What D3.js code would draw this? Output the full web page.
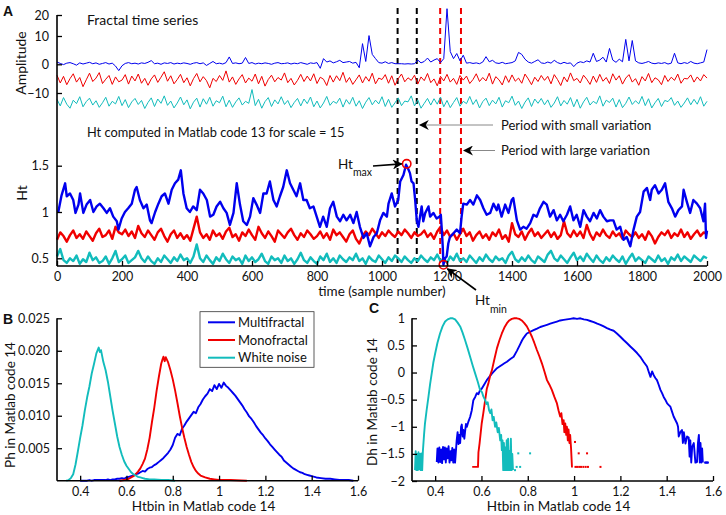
<!DOCTYPE html>
<html><head><meta charset="utf-8">
<script src="https://cdn.jsdelivr.net/npm/d3@7"></script>
<style>
body{margin:0;background:#fff}
svg{display:block}
text{font-family:Lato,"Open Sans",sans-serif;fill:#111}
</style>
</head><body><svg id="c" width="726" height="515"></svg>
<script>
// ---------------- DATA ----------------
const sampleStep = 10;
const timeTicks = [0,200,400,600,800,1000,1200,1400,1600,1800,2000];
const ampTicks = [20,10,0,-10];
const htTicks = [0.5,1,1.5];
const phTicks = [0.005,0.010,0.015,0.020,0.025];
const phTickLabels = ["0.005","0.010","0.015","0.020","0.025"];
const htbinTicks = [0.4,0.6,0.8,1,1.2,1.4,1.6];
const dhTicks = [1,0.5,0,-0.5,-1,-1.5,-2];
const seriesNames = ["Multifractal","Monofractal","White noise"];
const seriesColors = ["#0000ee","#f00000","#12bcbc"];

// Panel A amplitude series (every 10 samples)
const ampMulti = [
0.8,0.3,-0.1,0.4,0.6,0.2,-0.3,0.5,0.1,0.4,
0.7,0.2,0.5,0.0,0.3,0.6,0.1,0.4,-0.6,-2.2,
-0.5,0.3,0.6,0.2,0.4,0.1,0.5,0.3,0.7,1.3,
0.2,0.4,0.0,0.5,0.3,0.6,0.1,0.4,0.2,0.5,
0.3,0.0,0.4,0.6,0.2,0.5,-0.4,0.3,1.0,0.2,
0.4,0.1,0.6,2.6,0.3,0.5,0.2,0.4,2.4,0.3,
0.6,0.1,0.4,0.2,0.5,0.3,0.0,0.4,0.6,0.2,
0.3,0.5,0.1,0.4,0.2,0.6,0.3,0.0,0.5,0.3,
0.6,-1.4,2.0,0.8,1.2,0.5,0.9,1.4,0.6,0.8,
1.0,0.4,0.7,-1.2,7.3,1.0,10.2,3.5,2.0,0.6,
0.4,0.9,0.3,0.6,0.2,0.2,0.2,0.1,0.2,0.1,
0.2,1.5,0.5,1.0,2.2,0.8,1.5,2.0,0.6,2.0,
23.0,4.5,2.0,3.8,1.2,3.2,0.4,0.6,0.3,0.5,
0.2,0.8,2.7,0.9,1.4,0.5,0.3,0.7,0.2,0.4,
0.6,1.2,4.2,3.5,1.8,0.8,0.4,1.0,1.6,0.5,
0.3,0.8,0.4,1.4,0.6,0.2,0.7,0.3,0.5,-0.8,
0.4,0.9,0.6,1.2,0.8,3.9,1.0,1.5,2.5,0.8,
5.6,1.5,0.7,1.8,0.9,8.8,1.2,8.4,1.2,0.5,
0.3,0.6,1.0,0.4,0.2,0.5,0.3,0.6,0.1,0.4,
3.9,0.5,0.2,0.6,0.3,1.0,0.4,0.2,0.5,0.8,
5.2];
const ampMono = [
-3.8,-6.5,-4.2,-7.1,-5.0,-3.3,-6.2,-4.6,-7.8,-5.4,
-3.1,-6.0,-4.8,-2.9,-6.7,-5.2,-3.9,-7.0,-4.4,-6.1,
-5.5,-3.6,-6.9,-4.1,-5.8,-3.4,-6.6,-4.9,-7.3,-5.1,
-3.7,-6.3,-4.5,-2.6,-5.9,-4.0,-6.8,-5.3,-3.5,-6.4,
-4.7,-7.5,-5.0,-3.2,-6.1,-4.3,-5.7,-8.2,-4.9,-6.0,
-3.9,-5.6,-2.3,-6.2,-4.4,-7.0,-5.1,-3.6,-6.5,-4.8,
-5.9,-3.4,-6.8,-4.2,-7.6,-5.3,-3.8,-6.1,-4.6,-5.5,
-3.0,-6.4,-4.9,-7.2,-5.6,-3.5,-6.0,-4.1,-5.8,-3.3,
-6.7,-4.5,-5.2,-7.4,-3.9,-6.2,-4.0,-5.7,-2.8,-6.3,
-4.6,-7.0,-5.4,-3.7,-6.5,-4.3,-5.9,-3.1,-6.8,-4.8,
-5.3,-3.6,-6.6,-4.0,-7.3,-5.0,-3.4,-6.1,-4.7,-5.6,
-3.8,-6.9,-4.4,-5.7,-3.2,-6.4,-5.1,-7.5,-4.2,-5.8,
-3.5,-6.2,-4.9,-7.0,-3.9,-5.5,-4.1,-6.7,-5.3,-3.3,
-6.0,-4.6,-5.8,-3.1,-6.9,-4.3,-5.4,-7.2,-4.0,-6.3,
-3.7,-5.9,-4.8,-6.6,-3.4,-5.1,-7.1,-4.5,-6.0,-3.9,
-5.6,-4.2,-6.8,-3.6,-5.3,-7.4,-4.4,-6.1,-3.0,-5.7,
-4.9,-6.5,-3.8,-5.2,-7.0,-4.1,-6.3,-3.5,-5.9,-4.6,
-6.7,-3.3,-5.5,-4.0,-6.9,-4.8,-3.6,-6.2,-5.0,-7.3,
-4.3,-5.8,-3.2,-6.4,-4.7,-5.4,-7.1,-3.9,-6.0,-4.5,
-5.6,-3.4,-6.6,-4.9,-5.1,-3.7,-6.2,-4.4,-5.8,-3.6,
-4.8];
const ampWhite = [
-12.2,-14.5,-11.6,-13.9,-15.3,-12.5,-13.7,-11.3,-14.8,-13.0,
-11.8,-14.2,-12.7,-15.0,-13.4,-11.5,-14.6,-12.9,-13.8,-11.2,
-14.4,-12.3,-15.1,-13.1,-11.9,-14.0,-12.6,-15.4,-13.3,-11.7,
-14.7,-12.1,-13.6,-11.0,-14.3,-12.8,-15.2,-13.5,-11.4,-14.1,
-12.4,-15.5,-13.2,-11.8,-14.9,-12.0,-13.9,-11.5,-14.6,-12.7,
-13.4,-11.1,-14.8,-12.5,-15.0,-13.1,-11.7,-14.2,-12.9,-13.6,
-8.8,-14.4,-12.2,-15.3,-13.0,-11.6,-14.7,-12.4,-13.8,-11.3,
-14.0,-12.6,-15.1,-13.3,-11.9,-14.5,-12.1,-13.7,-11.4,-14.8,
-12.8,-15.2,-13.5,-11.2,-14.3,-12.9,-13.6,-11.8,-14.9,-12.3,
-13.9,-11.5,-14.6,-12.7,-15.4,-13.2,-11.6,-14.1,-12.5,-13.8,
-11.3,-14.7,-12.2,-15.0,-13.4,-11.7,-14.4,-12.8,-13.1,-11.0,
-14.5,-12.4,-15.3,-13.6,-11.9,-14.2,-12.0,-13.9,-11.4,-14.8,
-12.6,-15.1,-13.3,-11.6,-14.6,-12.9,-13.7,-11.2,-14.0,-12.3,
-15.2,-13.0,-11.8,-14.4,-12.5,-13.8,-11.5,-14.9,-12.7,-13.4,
-11.1,-14.3,-12.8,-15.4,-13.2,-11.7,-14.7,-12.1,-13.6,-11.9,
-14.1,-12.4,-15.0,-13.5,-11.3,-14.5,-12.6,-13.9,-11.6,-14.8,
-12.2,-15.3,-13.1,-11.5,-14.2,-12.9,-13.7,-11.0,-14.6,-12.5,
-13.3,-11.8,-14.9,-12.3,-15.1,-13.6,-11.4,-14.0,-12.7,-13.8,
-11.2,-14.4,-12.0,-15.2,-13.4,-11.9,-14.7,-12.6,-13.0,-11.6,
-14.3,-12.8,-15.0,-13.5,-11.7,-14.1,-12.2,-13.9,-11.3,-14.6,
-12.9];

// Panel A Ht series
const htMulti = [
[4,1.00],[14,1.18],[25,1.31],[30,1.17],[40,1.20],[50,1.13],[57,0.99],[66,1.08],[71,1.20],[81,0.99],
[91,1.08],[102,1.13],[112,1.00],[122,1.06],[132,1.09],[143,1.04],[153,0.99],[163,1.04],[173,0.95],[184,0.90],
[189,0.81],[199,0.93],[209,1.00],[219,1.04],[230,1.09],[240,1.24],[245,1.27],[255,1.13],[266,1.04],[276,1.08],
[286,0.91],[291,0.88],[302,1.00],[312,1.09],[322,1.17],[332,1.20],[343,1.09],[353,1.24],[363,1.31],[373,1.35],
[381,1.45],[389,1.20],[399,1.04],[409,1.00],[419,1.06],[430,1.02],[440,1.24],[450,1.20],[461,1.13],[471,0.95],
[481,0.97],[491,1.06],[502,1.11],[512,1.04],[522,0.99],[532,0.86],[543,0.99],[553,1.31],[563,1.08],[573,0.90],
[584,0.86],[594,0.95],[604,1.15],[614,1.08],[625,0.99],[635,1.20],[645,1.20],[655,1.33],[666,1.13],[676,1.06],
[686,1.17],[696,1.27],[707,1.45],[717,1.31],[727,1.24],[737,1.17],[748,1.31],[758,1.13],[768,1.13],[778,1.04],
[789,1.06],[799,0.95],[809,0.84],[819,0.95],[830,0.84],[840,1.04],[850,1.11],[861,0.95],[871,0.90],[881,0.97],
[891,0.91],[902,0.97],[912,0.88],[922,1.00],[932,0.84],[943,0.72],[953,0.77],[963,0.63],[974,0.73],[984,0.77],
[994,0.91],[1004,0.99],[1015,0.95],[1020,1.09],[1030,1.20],[1035,1.13],[1040,1.06],[1050,1.13],[1056,1.33],[1066,1.40],
[1074,1.51],[1080,1.47],[1086,1.42],[1091,1.33],[1097,1.31],[1102,1.13],[1107,0.91],[1112,0.84],[1117,0.95],[1122,1.06],
[1127,0.90],[1133,0.99],[1143,1.06],[1148,0.95],[1158,0.99],[1168,0.93],[1177,0.95],[1181,0.97],[1184,0.81],[1187,0.62],
[1189,0.43],[1194,0.50],[1199,0.52],[1204,0.66],[1209,0.73],[1220,0.77],[1230,0.81],[1240,0.77],[1245,0.95],[1250,1.09],
[1261,1.08],[1271,1.13],[1281,1.08],[1292,1.18],[1302,1.13],[1312,1.04],[1322,0.97],[1333,0.99],[1343,1.09],[1353,1.02],
[1358,1.08],[1368,0.95],[1379,1.08],[1389,0.99],[1399,1.13],[1404,1.15],[1415,0.91],[1425,0.81],[1435,0.84],[1445,0.82],
[1456,0.88],[1466,0.97],[1476,0.95],[1486,1.04],[1497,1.11],[1507,1.08],[1517,0.95],[1528,1.02],[1538,0.91],[1548,0.97],
[1558,0.90],[1569,0.97],[1579,1.06],[1589,0.91],[1599,0.97],[1610,0.84],[1620,1.02],[1630,0.95],[1640,0.90],[1651,0.99],
[1661,0.93],[1671,1.02],[1681,0.95],[1692,0.90],[1702,0.91],[1712,0.91],[1722,0.81],[1733,0.84],[1743,0.70],[1753,0.73],
[1764,0.63],[1774,0.81],[1784,0.95],[1794,1.00],[1805,1.22],[1815,1.26],[1825,1.13],[1830,1.24],[1840,1.29],[1851,1.20],
[1861,1.24],[1871,1.31],[1881,1.11],[1892,1.04],[1902,0.95],[1912,1.02],[1923,1.06],[1928,1.24],[1938,1.11],[1948,0.99],
[1958,1.13],[1969,1.09],[1979,1.04],[1989,0.90],[1994,1.09],[1997,0.72],[2000,0.80]];
const htMono = [
0.70,0.78,0.74,0.68,0.75,0.80,0.72,0.76,0.71,0.79,
0.74,0.69,0.77,0.82,0.73,0.75,0.80,0.71,0.84,0.78,
0.76,0.81,0.74,0.79,0.72,0.85,0.77,0.73,0.80,0.75,
0.70,0.78,0.82,0.74,0.68,0.76,0.80,0.72,0.77,0.71,
0.75,0.69,0.82,0.95,0.78,0.72,0.76,0.70,0.80,0.74,
0.77,0.71,0.79,0.83,0.73,0.76,0.69,0.78,0.74,0.81,
0.75,0.70,0.84,0.77,0.72,0.79,0.74,0.68,0.80,0.76,
0.72,0.78,0.82,0.75,0.70,0.77,0.73,0.80,0.76,0.71,
0.74,0.79,0.72,0.77,0.70,0.81,0.75,0.78,0.73,0.68,
0.76,0.80,0.71,0.66,0.74,0.79,0.75,0.82,0.77,0.72,
0.78,0.74,0.80,0.76,0.73,0.79,0.75,0.81,0.77,0.72,
0.78,0.74,0.76,0.80,0.73,0.77,0.71,0.79,0.84,0.75,
0.80,0.73,0.77,0.70,0.76,0.82,0.74,0.78,0.69,0.75,
0.79,0.72,0.76,0.70,0.78,0.74,0.81,0.71,0.75,0.68,
0.88,0.76,0.73,0.79,0.70,0.77,0.82,0.74,0.78,0.72,
0.76,0.80,0.73,0.78,0.71,0.75,0.90,0.77,0.73,0.80,
0.74,0.79,0.72,0.86,0.76,0.70,0.78,0.74,0.81,0.75,
0.72,0.79,0.74,0.77,0.71,0.80,0.76,0.73,0.78,0.72,
0.76,0.70,0.79,0.74,0.66,0.73,0.78,0.75,0.80,0.72,
0.77,0.74,0.81,0.73,0.78,0.71,0.76,0.80,0.74,0.78,
0.76];
const htWhite = [
0.52,0.60,0.48,0.45,0.50,0.47,0.53,0.44,0.49,0.46,
0.56,0.48,0.51,0.45,0.47,0.52,0.44,0.50,0.58,0.46,
0.49,0.53,0.45,0.48,0.51,0.58,0.50,0.46,0.52,0.47,
0.44,0.50,0.46,0.53,0.49,0.45,0.51,0.47,0.54,0.48,
0.50,0.45,0.52,0.65,0.50,0.46,0.53,0.48,0.44,0.51,
0.47,0.55,0.49,0.45,0.52,0.48,0.50,0.44,0.53,0.47,
0.51,0.46,0.49,0.55,0.47,0.44,0.52,0.48,0.50,0.45,
0.53,0.47,0.50,0.44,0.49,0.56,0.48,0.45,0.51,0.47,
0.44,0.52,0.48,0.55,0.46,0.50,0.45,0.53,0.49,0.46,
0.51,0.48,0.55,0.47,0.50,0.44,0.52,0.48,0.46,0.53,
0.49,0.45,0.51,0.47,0.53,0.50,0.46,0.52,0.48,0.45,
0.50,0.47,0.53,0.49,0.46,0.51,0.48,0.54,0.47,0.50,
0.45,0.52,0.48,0.55,0.47,0.50,0.46,0.53,0.49,0.45,
0.51,0.47,0.54,0.49,0.46,0.52,0.48,0.50,0.45,0.53,
0.57,0.49,0.46,0.51,0.47,0.53,0.48,0.45,0.52,0.49,
0.46,0.54,0.58,0.50,0.47,0.53,0.49,0.45,0.51,0.56,
0.48,0.52,0.47,0.55,0.50,0.46,0.53,0.48,0.45,0.51,
0.47,0.53,0.49,0.46,0.52,0.44,0.50,0.55,0.47,0.51,
0.48,0.45,0.52,0.49,0.46,0.53,0.47,0.50,0.44,0.51,
0.48,0.54,0.47,0.52,0.49,0.46,0.53,0.50,0.47,0.52,
0.50];
const smallVarPeriod = [1048,1107];
const largeVarPeriod = [1179,1243];
const htMaxPoint = [1076,1.52];
const htMinPoint = [1189,0.43];

// Panel B: Ph vs Htbin
const phMulti = [
[0.40,0.0000],[0.41,0.0000],[0.42,0.0000],[0.43,0.0000],[0.44,0.0001],[0.45,0.0000],[0.46,0.0001],[0.47,0.0001],[0.48,0.0001],[0.49,0.0001],
[0.50,0.0001],[0.51,0.0001],[0.52,0.0002],[0.53,0.0001],[0.54,0.0002],[0.55,0.0002],[0.56,0.0003],[0.57,0.0003],[0.58,0.0004],[0.59,0.0003],
[0.60,0.0005],[0.61,0.0006],[0.62,0.0007],[0.63,0.0008],[0.64,0.0010],[0.65,0.0011],[0.66,0.0013],[0.67,0.0015],[0.68,0.0014],[0.69,0.0018],
[0.70,0.0020],[0.71,0.0021],[0.72,0.0024],[0.73,0.0026],[0.74,0.0029],[0.75,0.0032],[0.76,0.0035],[0.77,0.0039],[0.78,0.0043],[0.79,0.0048],
[0.80,0.0055],[0.81,0.0066],[0.82,0.0072],[0.83,0.0070],[0.84,0.0080],[0.85,0.0085],[0.86,0.0091],[0.87,0.0096],[0.88,0.0101],[0.89,0.0106],
[0.90,0.0104],[0.91,0.0113],[0.92,0.0118],[0.93,0.0125],[0.94,0.0130],[0.95,0.0134],[0.96,0.0141],[0.97,0.0138],[0.98,0.0147],[0.99,0.0141],
[1.00,0.0149],[1.01,0.0143],[1.02,0.0151],[1.03,0.0146],[1.04,0.0143],[1.05,0.0139],[1.06,0.0135],[1.07,0.0131],[1.08,0.0126],[1.09,0.0121],
[1.10,0.0116],[1.11,0.0110],[1.12,0.0105],[1.13,0.0099],[1.14,0.0095],[1.15,0.0090],[1.16,0.0084],[1.17,0.0079],[1.18,0.0074],[1.19,0.0070],
[1.20,0.0065],[1.21,0.0061],[1.22,0.0056],[1.23,0.0052],[1.24,0.0048],[1.25,0.0044],[1.26,0.0040],[1.27,0.0037],[1.28,0.0031],[1.29,0.0028],
[1.30,0.0025],[1.31,0.0022],[1.32,0.0019],[1.33,0.0017],[1.34,0.0015],[1.35,0.0013],[1.36,0.0012],[1.37,0.0010],[1.38,0.0009],[1.39,0.0008],
[1.40,0.0007],[1.42,0.0005],[1.44,0.0004],[1.46,0.0003],[1.48,0.0003],[1.50,0.0002],[1.52,0.0001],[1.54,0.0001],[1.56,0.0001],[1.58,0.0000]];
const phMono = [
[0.57,0.0000],[0.59,0.0001],[0.61,0.0003],[0.63,0.0007],[0.64,0.0010],[0.65,0.0014],[0.66,0.0019],[0.67,0.0026],[0.68,0.0034],[0.69,0.0048],
[0.70,0.0066],[0.71,0.0090],[0.72,0.0112],[0.73,0.0138],[0.74,0.0160],[0.75,0.0180],[0.755,0.0186],[0.76,0.0191],[0.765,0.0184],[0.77,0.0190],
[0.78,0.0182],[0.79,0.0170],[0.80,0.0156],[0.81,0.0139],[0.82,0.0120],[0.83,0.0100],[0.84,0.0082],[0.85,0.0066],[0.86,0.0052],[0.87,0.0040],
[0.88,0.0029],[0.89,0.0021],[0.90,0.0015],[0.91,0.0011],[0.92,0.0008],[0.94,0.0005],[0.96,0.0003],[0.98,0.0002],[1.00,0.0001],[1.05,0.0001],[1.12,0.0000]];
const phWhite = [
[0.34,0.0000],[0.35,0.0001],[0.36,0.0004],[0.37,0.0010],[0.38,0.0025],[0.39,0.0045],[0.40,0.0066],[0.41,0.0085],[0.42,0.0108],[0.43,0.0128],
[0.44,0.0145],[0.45,0.0165],[0.46,0.0180],[0.47,0.0196],[0.48,0.0205],[0.485,0.0198],[0.49,0.0201],[0.50,0.0183],[0.51,0.0170],[0.52,0.0152],
[0.53,0.0130],[0.54,0.0108],[0.55,0.0088],[0.56,0.0068],[0.57,0.0052],[0.58,0.0040],[0.59,0.0030],[0.60,0.0023],[0.61,0.0018],[0.62,0.0013],
[0.63,0.0010],[0.64,0.0008],[0.65,0.0006],[0.66,0.0005],[0.67,0.0004],[0.68,0.0003],[0.70,0.0002],[0.72,0.0002],[0.75,0.0001],[0.78,0.0001],[0.81,0.0000]];

// Panel C: Dh vs Htbin
const dhMulti = [
[0.407,-1.65],[0.410,-1.40],[0.414,-1.66],[0.418,-1.38],[0.422,-1.65],[0.426,-1.42],[0.430,-1.67],[0.434,-1.37],[0.438,-1.60],[0.442,-1.38],
[0.446,-1.66],[0.450,-1.40],[0.454,-1.58],[0.458,-1.36],[0.462,-1.66],[0.466,-1.45],[0.470,-1.62],[0.474,-1.39],[0.478,-1.66],[0.482,-1.42],
[0.486,-1.66],[0.493,-1.25],[0.497,-1.10],[0.501,-1.32],[0.505,-1.15],[0.508,-1.30],[0.512,-1.00],[0.515,-0.96],[0.519,-1.18],[0.522,-1.06],
[0.526,-1.22],[0.529,-1.10],[0.533,-0.95],[0.537,-1.00],[0.544,-0.90],[0.551,-0.82],[0.558,-0.70],[0.565,-0.51],[0.573,-0.45],[0.580,-0.38],
[0.587,-0.40],[0.594,-0.32],[0.601,-0.30],[0.612,-0.22],[0.623,-0.14],[0.634,-0.08],[0.645,-0.02],[0.656,0.03],[0.667,0.08],[0.678,0.11],
[0.688,0.14],[0.699,0.17],[0.710,0.20],[0.725,0.25],[0.739,0.29],[0.753,0.40],[0.767,0.52],[0.775,0.59],[0.782,0.64],[0.789,0.68],
[0.796,0.72],[0.810,0.75],[0.825,0.78],[0.840,0.81],[0.854,0.84],[0.869,0.86],[0.883,0.88],[0.897,0.90],[0.911,0.92],[0.926,0.94],
[0.940,0.96],[0.955,0.97],[0.969,0.98],[0.984,0.99],[0.998,1.00],[1.013,0.99],[1.027,1.00],[1.042,0.98],[1.056,0.97],[1.070,0.95],
[1.085,0.93],[1.100,0.90],[1.114,0.88],[1.128,0.85],[1.142,0.82],[1.157,0.79],[1.171,0.77],[1.185,0.72],[1.200,0.66],[1.214,0.60],
[1.229,0.54],[1.243,0.48],[1.258,0.42],[1.272,0.36],[1.286,0.29],[1.300,0.20],[1.315,0.11],[1.322,0.02],[1.330,-0.08],[1.337,0.02],
[1.344,-0.05],[1.351,-0.10],[1.358,-0.14],[1.365,-0.22],[1.373,-0.32],[1.380,-0.38],[1.387,-0.45],[1.394,-0.50],[1.402,-0.57],[1.409,-0.60],
[1.416,-0.63],[1.423,-0.72],[1.430,-0.81],[1.438,-0.88],[1.445,-0.94],[1.449,-1.00],[1.452,-1.18],[1.459,-1.10],[1.466,-1.06],[1.470,-1.30],
[1.474,-1.10],[1.481,-1.31],[1.488,-1.18],[1.495,-1.20],[1.499,-1.55],[1.502,-1.25],[1.506,-1.66],[1.510,-1.37],[1.517,-1.30],[1.524,-1.66],
[1.531,-1.65],[1.535,-1.30],[1.539,-1.15],[1.543,-1.66],[1.546,-1.30],[1.550,-1.66],[1.553,-1.40],[1.556,-1.66]];
const dhMono = [
[0.560,-1.74],[0.585,-1.74],[0.587,-1.47],[0.592,-1.30],[0.601,-0.94],[0.608,-0.75],[0.616,-0.51],[0.623,-0.30],[0.630,-0.20],[0.638,-0.05],
[0.645,0.04],[0.656,0.25],[0.667,0.45],[0.678,0.60],[0.688,0.72],[0.699,0.83],[0.710,0.91],[0.720,0.96],[0.731,0.99],[0.742,1.00],
[0.753,1.00],[0.763,0.99],[0.774,0.96],[0.785,0.91],[0.796,0.85],[0.807,0.76],[0.818,0.66],[0.828,0.55],[0.839,0.42],[0.850,0.30],
[0.861,0.17],[0.872,0.02],[0.883,-0.14],[0.893,-0.22],[0.904,-0.32],[0.915,-0.45],[0.926,-0.57],[0.933,-0.70],[0.940,-0.81],[0.945,-0.75],
[0.950,-0.95],[0.955,-0.88],[0.958,-1.10],[0.962,-0.94],[0.966,-1.15],[0.969,-1.00],[0.973,-1.25],[0.976,-1.05],[0.980,-1.30],[0.983,-1.15],
[0.987,-1.40],[0.991,-1.75]];
const dhWhite = [
[0.313,-1.80],[0.316,-1.45],[0.319,-1.80],[0.322,-1.50],[0.325,-1.80],[0.328,-1.47],[0.331,-1.78],[0.334,-1.50],[0.337,-1.80],[0.340,-1.49],
[0.344,-1.80],[0.347,-1.45],[0.352,-1.15],[0.356,-0.94],[0.363,-0.70],[0.371,-0.45],[0.378,-0.22],[0.385,-0.02],[0.392,0.18],[0.400,0.35],
[0.410,0.55],[0.421,0.72],[0.432,0.85],[0.443,0.94],[0.454,0.98],[0.465,1.00],[0.476,1.00],[0.486,0.98],[0.497,0.92],[0.508,0.85],
[0.518,0.74],[0.529,0.60],[0.540,0.45],[0.551,0.29],[0.562,0.13],[0.573,-0.02],[0.584,-0.17],[0.594,-0.32],[0.602,-0.36],[0.608,-0.44],
[0.616,-0.51],[0.622,-0.58],[0.627,-0.55],[0.633,-0.70],[0.638,-0.75],[0.643,-0.68],[0.648,-0.88],[0.653,-0.82],[0.659,-1.00],[0.664,-0.92],
[0.670,-1.10],[0.675,-1.02],[0.681,-1.25],[0.685,-1.15],[0.688,-1.43],[0.691,-1.25],[0.694,-1.80],[0.697,-1.30],[0.700,-1.80],[0.703,-1.38],
[0.706,-1.80],[0.709,-1.25],[0.712,-1.80],[0.715,-1.22],[0.718,-1.80],[0.721,-1.45],[0.724,-1.80],[0.727,-1.22],[0.730,-1.80],[0.733,-1.50],[0.736,-1.80]];
const dhMultiDots = [[1.566,-1.66],[1.570,-1.66],[1.574,-1.66],[1.578,-1.66]];
const dhMonoDots = [[1.004,-1.28],[1.020,-1.49],[1.056,-1.49],[1.006,-1.74],[1.013,-1.74],[1.022,-1.74],[1.030,-1.74],[1.040,-1.74],[1.050,-1.74],[1.060,-1.74],[1.114,-1.74]];
const dhWhiteDots = [[0.745,-1.80],[0.752,-1.74],[0.759,-1.49],[0.767,-1.74],[0.810,-1.49]];

// ---------------- DRAW ----------------
const svg = d3.select("#c");
const [cMulti,cMono,cWhite] = seriesColors;
const axisColor = "#000";

// Panel A scales
const xA = d3.scaleLinear().domain([0,2000]).range([57,707]);
const yAmp = d3.scaleLinear().domain([-10,0,10,20]).range([93,64.3,36,15]);
const yHt = d3.scaleLinear().domain([0.5,1.5]).range([258.3,165.7]);
const aTop = 15, aBottom = 266;

function styleAxis(g, fs){
  g.attr("font-family",null).attr("font-size",null);
  g.selectAll("text").style("font-size",fs+"px").attr("fill","#111");
  g.selectAll(".tick line").attr("stroke",axisColor).attr("stroke-width",1.3);
}
const minusFmt = v => (v<0?"\u2212":"") + Math.abs(v);

// dashed period lines
const periodG = svg.append("g");
smallVarPeriod.forEach(v=>periodG.append("line").attr("x1",xA(v)).attr("x2",xA(v)).attr("y1",8).attr("y2",263)
  .attr("stroke","#000").attr("stroke-width",2).attr("stroke-dasharray","6,4"));
largeVarPeriod.forEach(v=>periodG.append("line").attr("x1",xA(v)).attr("x2",xA(v)).attr("y1",8).attr("y2",263)
  .attr("stroke","#f00000").attr("stroke-width",2).attr("stroke-dasharray","6,4"));

// amplitude lines
const ampLine = d3.line().x((d,i)=>xA(i*sampleStep)).y(d=>yAmp(d));
[[ampWhite,cWhite],[ampMono,cMono],[ampMulti,cMulti]].forEach(([arr,c])=>{
  svg.append("path").attr("d",ampLine(arr)).attr("fill","none").attr("stroke",c).attr("stroke-width",1).attr("stroke-linejoin","round");
});

// Ht lines
const htLineIdx = d3.line().x((d,i)=>xA(i*sampleStep)).y(d=>yHt(d));
const htLinePair = d3.line().x(d=>xA(d[0])).y(d=>yHt(d[1]));
svg.append("path").attr("d",htLineIdx(htWhite)).attr("fill","none").attr("stroke",cWhite).attr("stroke-width",2.4).attr("stroke-linejoin","round");
svg.append("path").attr("d",htLineIdx(htMono)).attr("fill","none").attr("stroke",cMono).attr("stroke-width",2.4).attr("stroke-linejoin","round");
svg.append("path").attr("d",htLinePair(htMulti)).attr("fill","none").attr("stroke",cMulti).attr("stroke-width",2.4).attr("stroke-linejoin","round");

// markers
[htMaxPoint,htMinPoint].forEach(p=>svg.append("circle").attr("cx",xA(p[0])).attr("cy",yHt(p[1])).attr("r",4.2)
  .attr("fill","none").attr("stroke","#f00000").attr("stroke-width",1.6));

// Panel A axes
svg.append("line").attr("x1",57).attr("x2",57).attr("y1",aTop).attr("y2",aBottom).attr("stroke",axisColor).attr("stroke-width",1.6);
svg.append("line").attr("x1",57).attr("x2",707).attr("y1",aBottom).attr("y2",aBottom).attr("stroke",axisColor).attr("stroke-width",1.6);
svg.append("g").attr("transform","translate(57,0)")
  .call(d3.axisLeft(yAmp).tickValues(ampTicks).tickFormat(minusFmt).tickSizeInner(-5).tickSizeOuter(0).tickPadding(8))
  .call(g=>g.select(".domain").remove()).call(g=>styleAxis(g,12.5));
svg.append("g").attr("transform","translate(57,0)")
  .call(d3.axisLeft(yHt).tickValues(htTicks).tickFormat(d=>String(d)).tickSizeInner(-5).tickSizeOuter(0).tickPadding(8))
  .call(g=>g.select(".domain").remove()).call(g=>styleAxis(g,12.5));
svg.append("g").attr("transform",`translate(0,${aBottom})`)
  .call(d3.axisBottom(xA).tickValues(timeTicks).tickFormat(d=>String(d)).tickSizeInner(-5).tickSizeOuter(0).tickPadding(6))
  .call(g=>g.select(".domain").remove()).call(g=>styleAxis(g,12.5));

// Panel A texts
svg.append("text").attr("x",3).attr("y",16).attr("font-weight","bold").attr("font-size",14)
  .style("font-family","'Liberation Sans',Arial,sans-serif").text("A");
svg.append("text").attr("x",87).attr("y",25).attr("font-size",14).text("Fractal time series");
svg.append("text").attr("x",87).attr("y",136.5).attr("font-size",12.8).text("Ht computed in Matlab code 13 for scale = 15");
svg.append("text").attr("transform","translate(26,63) rotate(-90)").attr("text-anchor","middle").attr("font-size",14).text("Amplitude");
svg.append("text").attr("transform","translate(27,193) rotate(-90)").attr("text-anchor","middle").attr("font-size",14).text("Ht");
svg.append("text").attr("x",(xA(0)+xA(2000))/2).attr("y",296).attr("text-anchor","middle").attr("font-size",13.5).text("time (sample number)");

// arrows
const defs = svg.append("defs");
defs.append("marker").attr("id","ah").attr("viewBox","0 0 10 10").attr("refX",9).attr("refY",5)
  .attr("markerWidth",10).attr("markerHeight",10).attr("markerUnits","userSpaceOnUse").attr("orient","auto")
  .append("path").attr("d","M0,0 L10,5 L0,10 L3,5 Z").attr("fill","#000");
svg.append("line").attr("x1",493).attr("y1",125).attr("x2",xA(smallVarPeriod[1])+3).attr("y2",125)
  .attr("stroke","#888").attr("stroke-width",1).attr("marker-end","url(#ah)");
svg.append("text").attr("x",501).attr("y",129.5).attr("font-size",13).text("Period with small variation");
svg.append("line").attr("x1",495).attr("y1",150.5).attr("x2",xA(largeVarPeriod[1])+3).attr("y2",150.5)
  .attr("stroke","#888").attr("stroke-width",1).attr("marker-end","url(#ah)");
svg.append("text").attr("x",501).attr("y",155).attr("font-size",13).text("Period with large variation");
svg.append("line").attr("x1",373).attr("y1",166).attr("x2",xA(htMaxPoint[0])-5).attr("y2",yHt(htMaxPoint[1]))
  .attr("stroke","#000").attr("stroke-width",1.6).attr("marker-end","url(#ah)");
svg.append("line").attr("x1",476).attr("y1",290).attr("x2",xA(htMinPoint[0])+4).attr("y2",yHt(htMinPoint[1])+4)
  .attr("stroke","#000").attr("stroke-width",1.6).attr("marker-end","url(#ah)");
const tMax = svg.append("text").attr("x",338).attr("y",169).attr("font-size",13.5);
tMax.append("tspan").text("Ht");
tMax.append("tspan").attr("dy",7).attr("font-size",10.5).text("max");
const tMin = svg.append("text").attr("x",475).attr("y",305).attr("font-size",13.5);
tMin.append("tspan").text("Ht");
tMin.append("tspan").attr("dy",8).attr("font-size",10.5).text("min");

// ---------------- Panel B ----------------
const xB = d3.scaleLinear().domain([0.3,1.6]).range([57,358]);
const yB = d3.scaleLinear().domain([0,0.025]).range([480.7,318.3]);
const lineB = d3.line().x(d=>xB(d[0])).y(d=>yB(d[1]));
[[phMulti,cMulti],[phMono,cMono],[phWhite,cWhite]].forEach(([arr,c])=>{
  svg.append("path").attr("d",lineB(arr)).attr("fill","none").attr("stroke",c).attr("stroke-width",1.9).attr("stroke-linejoin","round");
});
svg.append("line").attr("x1",57).attr("x2",57).attr("y1",318.3).attr("y2",480.7).attr("stroke",axisColor).attr("stroke-width",1.6);
svg.append("line").attr("x1",57).attr("x2",358).attr("y1",480.7).attr("y2",480.7).attr("stroke",axisColor).attr("stroke-width",1.6);
svg.append("g").attr("transform","translate(57,0)")
  .call(d3.axisLeft(yB).tickValues(phTicks).tickFormat((d,i)=>phTickLabels[i]).tickSizeInner(-5).tickSizeOuter(0).tickPadding(7))
  .call(g=>g.select(".domain").remove()).call(g=>styleAxis(g,12.5));
svg.append("g").attr("transform","translate(0,480.7)")
  .call(d3.axisBottom(xB).tickValues(htbinTicks).tickFormat(d=>String(d)).tickSizeInner(-5).tickSizeOuter(0).tickPadding(6))
  .call(g=>g.select(".domain").remove()).call(g=>styleAxis(g,12.5));
svg.append("text").attr("x",3).attr("y",324).attr("font-weight","bold").attr("font-size",14)
  .style("font-family","'Liberation Sans',Arial,sans-serif").text("B");
svg.append("text").attr("transform","translate(15,405) rotate(-90)").attr("text-anchor","middle").attr("font-size",13.5).text("Ph in Matlab code 14");
svg.append("text").attr("x",(xB(0.3)+xB(1.6))/2 - 4).attr("y",511).attr("text-anchor","middle").attr("font-size",13.5).text("Htbin in Matlab code 14");

// legend
const lg = svg.append("g");
lg.append("rect").attr("x",200).attr("y",311.7).attr("width",114).attr("height",55.6).attr("fill","#fff").attr("stroke","#333").attr("stroke-width",0.8);
seriesNames.forEach((n,i)=>{
  const yy = 322.3 + i*17.7;
  lg.append("line").attr("x1",208).attr("x2",235).attr("y1",yy).attr("y2",yy).attr("stroke",seriesColors[i]).attr("stroke-width",2);
  lg.append("text").attr("x",238).attr("y",yy+4.5).attr("font-size",13).text(n);
});

// ---------------- Panel C ----------------
const xC = d3.scaleLinear().domain([0.3,1.6]).range([412,713]);
const yC = d3.scaleLinear().domain([-2,1]).range([481,318.3]);
const lineC = d3.line().x(d=>xC(d[0])).y(d=>yC(d[1]));
[[dhMulti,cMulti,dhMultiDots],[dhMono,cMono,dhMonoDots],[dhWhite,cWhite,dhWhiteDots]].forEach(([arr,c,dots])=>{
  svg.append("path").attr("d",lineC(arr)).attr("fill","none").attr("stroke",c).attr("stroke-width",1.9).attr("stroke-linejoin","round");
  svg.append("g").selectAll("rect").data(dots).join("rect")
    .attr("x",d=>xC(d[0])-1).attr("y",d=>yC(d[1])-1).attr("width",2).attr("height",2).attr("fill",c);
});
svg.append("line").attr("x1",412).attr("x2",412).attr("y1",318.3).attr("y2",481).attr("stroke",axisColor).attr("stroke-width",1.6);
svg.append("line").attr("x1",412).attr("x2",713).attr("y1",481).attr("y2",481).attr("stroke",axisColor).attr("stroke-width",1.6);
svg.append("g").attr("transform","translate(412,0)")
  .call(d3.axisLeft(yC).tickValues(dhTicks).tickFormat(minusFmt).tickSizeInner(-5).tickSizeOuter(0).tickPadding(7))
  .call(g=>g.select(".domain").remove()).call(g=>styleAxis(g,12.5));
svg.append("g").attr("transform","translate(0,481)")
  .call(d3.axisBottom(xC).tickValues(htbinTicks).tickFormat(d=>String(d)).tickSizeInner(-5).tickSizeOuter(0).tickPadding(6))
  .call(g=>g.select(".domain").remove()).call(g=>styleAxis(g,12.5));
svg.append("text").attr("x",369).attr("y",313).attr("font-weight","bold").attr("font-size",14)
  .style("font-family","'Liberation Sans',Arial,sans-serif").text("C");
svg.append("text").attr("transform","translate(377,402) rotate(-90)").attr("text-anchor","middle").attr("font-size",13.5).text("Dh in Matlab code 14");
svg.append("text").attr("x",(xC(0.3)+xC(1.6))/2 - 4).attr("y",511).attr("text-anchor","middle").attr("font-size",13.5).text("Htbin in Matlab code 14");
</script></body></html>
